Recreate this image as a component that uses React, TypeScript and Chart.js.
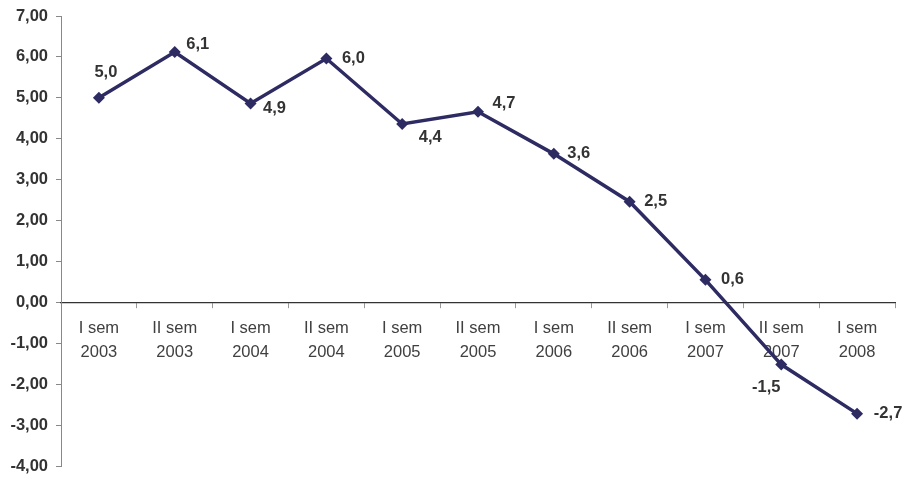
import React, { useEffect, useRef } from "react";
import { Chart, registerables } from "chart.js";

Chart.register(...registerables);

const categories: string[][] = [
  ["I sem", "2003"], ["II sem", "2003"], ["I sem", "2004"], ["II sem", "2004"],
  ["I sem", "2005"], ["II sem", "2005"], ["I sem", "2006"], ["II sem", "2006"],
  ["I sem", "2007"], ["II sem", "2007"], ["I sem", "2008"],
];
const values: number[] = [5.0, 6.12, 4.86, 5.96, 4.36, 4.66, 3.63, 2.46, 0.55, -1.52, -2.72];
const valueLabels: string[] = ["5,0", "6,1", "4,9", "6,0", "4,4", "4,7", "3,6", "2,5", "0,6", "-1,5", "-2,7"];
const yMin = -4;
const yMax = 7;
const yStep = 1;

const FONT = "'Liberation Sans', Arial, sans-serif";
const LINE_COLOR = "#2d2b62";

const fmt = (v: number, d: number) => v.toFixed(d).replace(".", ",");

const labelPlugin = {
  id: "valueLabels",
  afterDatasetsDraw(chart: any) {
    // label offset from point (dx, dy) in px
    const offsets: [number, number][] = [
      [7, -25], [23, -8], [24, 5], [27, 0], [28, 13], [26, -8],
      [25, 0], [26, 0], [27, 0], [-15, 23], [31, 0],
    ];
    const ctx = chart.ctx;
    const meta = chart.getDatasetMeta(0);
    ctx.save();
    ctx.font = `bold 16.5px ${FONT}`;
    ctx.fillStyle = "#333333";
    ctx.textAlign = "center";
    ctx.textBaseline = "middle";
    meta.data.forEach((pt: any, i: number) => {
      const [dx, dy] = offsets[i];
      ctx.fillText(valueLabels[i], pt.x + dx, pt.y + dy);
    });
    ctx.restore();
  },
};

export default function App() {
  const ref = useRef<HTMLCanvasElement>(null);
  useEffect(() => {
    document.body.style.margin = "0";
    const chart = new Chart(ref.current!, {
      type: "line",
      data: {
        labels: categories,
        datasets: [
          {
            data: values,
            borderColor: LINE_COLOR,
            backgroundColor: LINE_COLOR,
            borderWidth: 3.5,
            pointStyle: "rectRot",
            pointRadius: 6,
            pointBorderWidth: 0,
            tension: 0,
          },
        ],
      },
      options: {
        animation: false,
        responsive: false,
        maintainAspectRatio: false,
        layout: { padding: { top: 16, right: 11, bottom: 14, left: 0 } },
        plugins: { legend: { display: false }, tooltip: { enabled: false } },
        scales: {
          x: {
            type: "category",
            position: { y: 0 },
            offset: true,
            afterFit: (s: any) => { s.paddingTop = 0; s.paddingBottom = 0; s.paddingLeft = 0; s.paddingRight = 0; },
            grid: {
              offset: true,
              drawOnChartArea: false,
              drawTicks: true,
              tickLength: 5,
              color: "#999999",
            },
            border: { color: "#333333", width: 1.2 },
            ticks: {
              color: "#404040",
              font: { family: FONT, size: 16.5, lineHeight: 1.45 },
              padding: 9,
              maxRotation: 0,
              autoSkip: false,
            },
          },
          y: {
            min: yMin,
            max: yMax,
            afterFit: (s: any) => { s.width = 61; s.paddingTop = 0; s.paddingBottom = 0; },
            grid: {
              drawOnChartArea: false,
              drawTicks: true,
              tickLength: 5,
              color: "#888888",
            },
            border: { color: "#888888", width: 1 },
            ticks: {
              stepSize: yStep,
              color: "#333333",
              font: { family: FONT, size: 16.5, weight: "bold" },
              padding: 8,
              callback: (v: any) => fmt(Number(v), 2),
            },
          },
        },
      },
      plugins: [labelPlugin],
    });
    return () => chart.destroy();
  }, []);
  return (
    <div style={{ position: "absolute", left: 0, top: 0, width: 906, height: 480 }}>
      <canvas ref={ref} width={906} height={480} style={{ width: 906, height: 480 }} />
    </div>
  );
}
